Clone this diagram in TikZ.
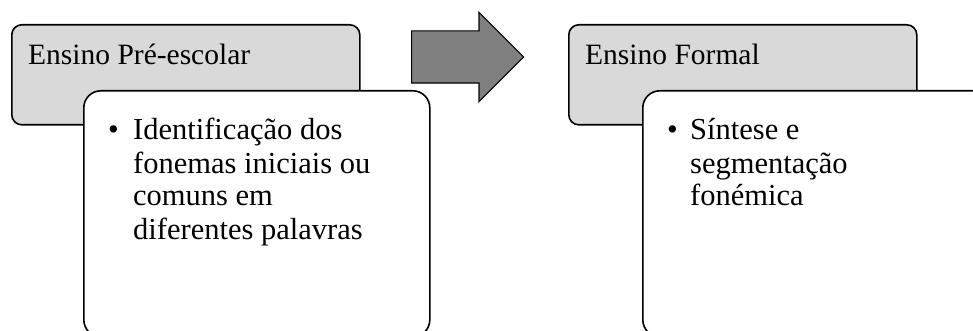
\documentclass[tikz,border=0pt]{standalone}
\usepackage{fontspec}
\setmainfont{Liberation Serif}
\usetikzlibrary{calc,positioning,shapes.arrows}
\definecolor{stagegray}{HTML}{D9D9D9}
\definecolor{arrowgray}{HTML}{808080}

\tikzset{
  stagebox/.style={draw,line width=1.6pt,fill=stagegray,rounded corners=10pt,
    minimum width=348pt,minimum height=100pt,inner sep=0pt,anchor=north west},
  notebox/.style={draw,line width=1.6pt,fill=white,rounded corners=17pt,
    minimum width=346pt,minimum height=246pt,inner sep=0pt,anchor=north west},
  stagelabel/.style={inner sep=0pt,anchor=base west,font=\fontsize{29.5}{33}\selectfont},
  notetext/.style={inner sep=0pt,anchor=base west,font=\fontsize{30.5}{33}\selectfont},
  stagearrow/.style={single arrow,draw,line width=1.2pt,fill=arrowgray,
    minimum height=112pt,single arrow head extend=18.5pt,
    inner xsep=0pt,inner ysep=25.5pt,shape border rotate=0,anchor=tail}
}
\newcommand\bulletline[2]{\makebox[#1][l]{\textbullet}\parbox[t]{250pt}{\baselineskip=33pt #2}}

\begin{document}
\begin{tikzpicture}[x=1pt,y=-1pt]
  \useasboundingbox (0,0) rectangle (973,331);
  \clip (0,0) rectangle (973,331);
  % first stage
  \node [stagebox] (pre) at (11,24) {};
  \node [notebox] (prenote) at ($(pre.north west)+(72,66)$) {};
  \node [stagelabel] (prelabel) at ($(pre.north west)+(17,41)$) {Ensino Pré-escolar};
  \node [notetext] (pretext) at ($(prenote.north west)+(25,50)$)
    {\bulletline{25pt}{Identificação dos\\ fonemas iniciais ou\\ comuns em\\ diferentes palavras}};
  % arrow
  \node [stagearrow] (step) at (411,57) {};
  % second stage
  \node [stagebox] (formal) at (568,24) {};
  \node [notebox] (formalnote) at ($(formal.north west)+(74,66)$) {};
  \node [stagelabel] (formallabel) at ($(formal.north west)+(17,41)$) {Ensino Formal};
  \node [notetext] (formaltext) at ($(formalnote.north west)+(25,50)$)
    {\bulletline{23pt}{Síntese e\\ segmentação\\ fonémica}};
\end{tikzpicture}
\end{document}
